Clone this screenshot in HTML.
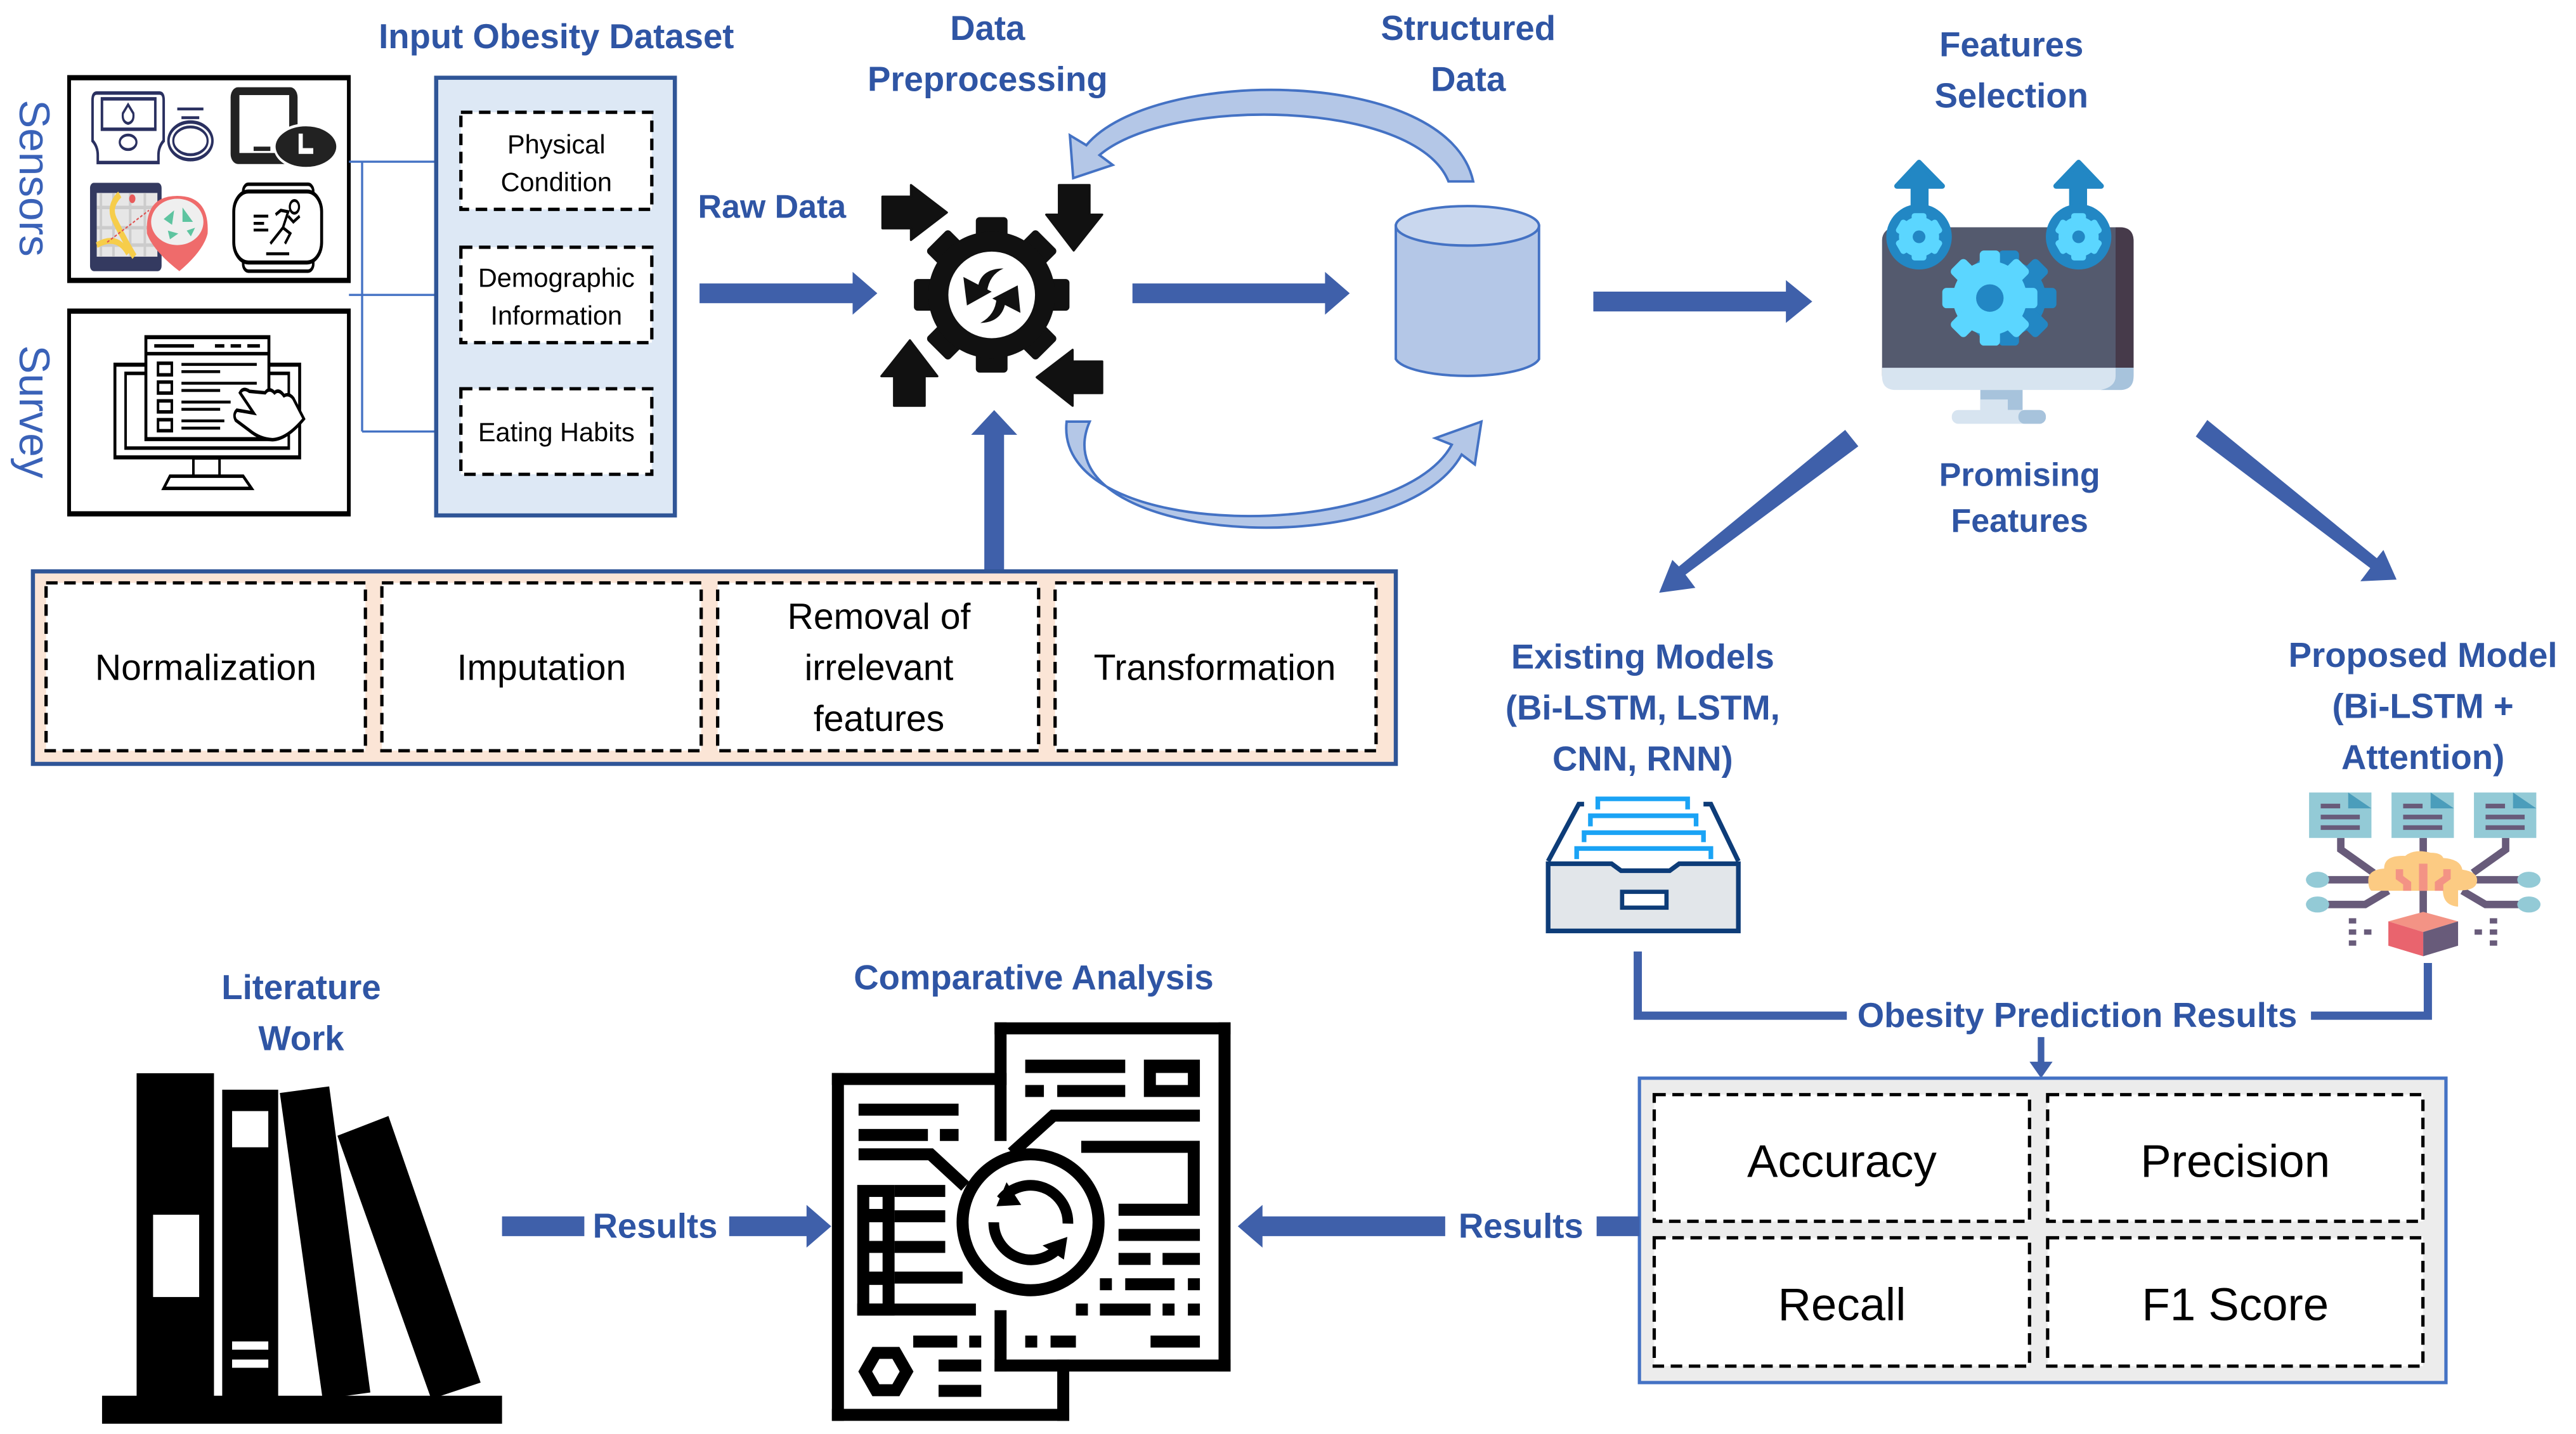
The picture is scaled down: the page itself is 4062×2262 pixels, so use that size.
<!DOCTYPE html>
<html><head><meta charset="utf-8">
<style>
html,body{margin:0;padding:0;background:#fff;}
svg{display:block;}
text{font-family:"Liberation Sans","DejaVu Sans",sans-serif;}
.t{fill:#2f55a4;font-weight:bold;font-size:21px;text-anchor:middle;}
.c{fill:#000;font-size:22px;text-anchor:middle;}
.s{fill:#000;font-size:16px;text-anchor:middle;}
.dash{fill:none;stroke:#000;stroke-width:2;stroke-dasharray:7,4;}
</style></head>
<body>
<svg width="4062" height="2262" viewBox="0 0 1565 871" xmlns="http://www.w3.org/2000/svg">
<defs>
<marker id="sm" markerWidth="6" markerHeight="6" refX="5" refY="3" orient="auto"><path d="M0,0 L6,3 L0,6 z" fill="#4472c4"/></marker>
</defs>
<rect width="1565" height="871" fill="#fff"/>

<!-- Sensors / Survey labels -->
<text x="0" y="0" transform="translate(12,108) rotate(90)" style="fill:#3a62b8;font-size:26px;text-anchor:middle">Sensors</text>
<text x="0" y="0" transform="translate(12,250) rotate(90)" style="fill:#3a62b8;font-size:26px;text-anchor:middle">Survey</text>

<!-- sensor + survey icons (zoom coords) -->
<g transform="translate(39.7,43.1) scale(0.1271,0.176)">
  <rect x="18" y="22" width="1337" height="700" fill="#fff" stroke="#000" stroke-width="18"/>
  <rect x="18" y="828" width="1337" height="700" fill="#fff" stroke="#000" stroke-width="18"/>
  <!-- glucometer -->
  <path d="M150,75 L450,75 Q470,75 470,100 L470,240 Q445,260 445,290 L445,315 L155,315 L155,290 Q155,260 130,240 L130,100 Q130,75 150,75 z" fill="#fff" stroke="#2a3060" stroke-width="12"/>
  <rect x="175" y="95" width="255" height="105" fill="none" stroke="#2a3060" stroke-width="12"/>
  <path d="M300,115 L325,145 Q330,175 300,180 Q270,175 275,145 z" fill="none" stroke="#2a3060" stroke-width="10"/>
  <ellipse cx="300" cy="245" rx="40" ry="25" fill="none" stroke="#2a3060" stroke-width="10"/>
  <ellipse cx="598" cy="240" rx="105" ry="65" fill="none" stroke="#2a3060" stroke-width="12"/>
  <ellipse cx="598" cy="240" rx="82" ry="48" fill="none" stroke="#2a3060" stroke-width="10"/>
  <path d="M535,130 L660,130 M555,160 L640,160" stroke="#2a3060" stroke-width="10"/>
  <!-- phone with clock -->
  <rect x="790" y="55" width="320" height="265" rx="35" fill="#222"/>
  <rect x="832" y="82" width="238" height="200" fill="#fff"/>
  <rect x="900" y="260" width="80" height="15" fill="#222"/>
  <ellipse cx="1150" cy="260" rx="150" ry="75" fill="#222" stroke="#fff" stroke-width="10"/>
  <path d="M1125,215 L1125,275 L1185,275" fill="none" stroke="#fff" stroke-width="20"/>
  <!-- map -->
  <rect x="118" y="385" width="342" height="305" rx="18" fill="#343a60"/>
  <rect x="150" y="420" width="290" height="220" fill="#e6e6e6"/>
  <path d="M170,420 L170,640 M230,420 L230,640 M310,420 L310,640 M380,420 L380,640 M150,470 L440,470 M150,540 L440,540 M150,600 L440,600" stroke="#ccc" stroke-width="12"/>
  <path d="M260,425 Q200,470 240,520 Q280,580 330,640" fill="none" stroke="#f6cd4a" stroke-width="25"/>
  <path d="M150,600 Q250,560 300,630" fill="none" stroke="#f6cd4a" stroke-width="20"/>
  <path d="M200,590 L400,480" stroke="#e05050" stroke-width="5" stroke-dasharray="12,8"/>
  <circle cx="320" cy="440" r="15" fill="#e85a5a"/>
  <path d="M390,560 Q380,430 535,430 Q690,430 680,560 Q660,620 545,690 Q420,620 390,560 z" fill="#ef6b6b"/>
  <ellipse cx="535" cy="520" rx="125" ry="80" fill="#efefef"/>
  <path d="M470,510 L520,480 L510,530 z M560,470 L610,520 L560,520 z M490,550 L540,560 L500,580 z M580,550 L620,540 L600,570 z" fill="#5ec4a0"/>
  <!-- watch -->
  <rect x="850" y="390" width="335" height="300" rx="25" fill="#fff" stroke="#000" stroke-width="12"/>
  <rect x="805" y="415" width="420" height="245" rx="70" fill="#fff" stroke="#000" stroke-width="14"/>
  <path d="M900,500 L970,500 M900,525 L950,525 M900,548 L970,548 M960,630 L1070,630" stroke="#000" stroke-width="10"/>
  <circle cx="1095" cy="468" r="22" fill="none" stroke="#000" stroke-width="10"/>
  <path d="M1005,495 L1030,480 L1065,485 L1040,540 L1075,560 L1050,595 M1040,540 L980,595 M1065,500 L1090,520 L1120,500" fill="none" stroke="#000" stroke-width="11"/>
  <!-- survey monitor -->
  <rect x="237" y="1013" width="883" height="320" fill="#fff" stroke="#000" stroke-width="14"/>
  <rect x="288" y="1043" width="780" height="258" fill="none" stroke="#000" stroke-width="12"/>
  <rect x="612" y="1335" width="125" height="75" fill="#fff" stroke="#000" stroke-width="12"/>
  <path d="M470,1440 L500,1398 L850,1398 L890,1440 z" fill="#fff" stroke="#000" stroke-width="12"/>
  <rect x="385" y="918" width="588" height="352" fill="#fff" stroke="#000" stroke-width="14"/>
  <line x1="385" y1="975" x2="973" y2="975" stroke="#000" stroke-width="12"/>
  <path d="M425,948 L615,948 M715,948 L760,948 M790,948 L840,948 M870,948 L930,948" stroke="#000" stroke-width="12"/>
  <g fill="#fff" stroke="#000" stroke-width="12">
    <rect x="443" y="1008" width="66" height="40"/><rect x="443" y="1073" width="66" height="38"/>
    <rect x="443" y="1138" width="66" height="38"/><rect x="443" y="1203" width="66" height="38"/>
  </g>
  <path d="M555,1012 L915,1012 M555,1037 L740,1037 M555,1077 L915,1077 M555,1102 L740,1102 M555,1142 L790,1142 M555,1167 L740,1167 M555,1207 L760,1207 M555,1232 L740,1232" stroke="#000" stroke-width="10"/>
  <path d="M990,1272 Q1060,1270 1140,1200 L1090,1130 Q1070,1110 1045,1120 Q1020,1095 1000,1110 Q975,1090 955,1110 L880,1105 Q850,1090 835,1110 L900,1180 L820,1170 Q800,1185 815,1205 L880,1240 Q930,1270 990,1272 z" fill="#fff" stroke="#000" stroke-width="12"/>
</g>

<!-- connectors -->
<line x1="212" y1="98" x2="220" y2="98" stroke="#4472c4" stroke-width="1.3"/>
<line x1="212" y1="179" x2="220" y2="179" stroke="#4472c4" stroke-width="1.3"/>
<line x1="220" y1="98" x2="220" y2="262" stroke="#4472c4" stroke-width="1.3"/>
<line x1="220" y1="98" x2="279" y2="98" stroke="#4472c4" stroke-width="1.3" marker-end="url(#sm)"/>
<line x1="220" y1="179" x2="279" y2="179" stroke="#4472c4" stroke-width="1.3" marker-end="url(#sm)"/>
<line x1="220" y1="262" x2="279" y2="262" stroke="#4472c4" stroke-width="1.3" marker-end="url(#sm)"/>

<!-- dataset -->
<text x="338" y="29" class="t">Input Obesity Dataset</text>
<rect x="265" y="47" width="145" height="266" fill="#dde8f5" stroke="#2f5597" stroke-width="2.5"/>
<rect x="280" y="68" width="116" height="59" class="dash" style="fill:#fff"/>
<text x="338" y="93" class="s">Physical</text><text x="338" y="116" class="s">Condition</text>
<rect x="280" y="150" width="116" height="58" class="dash" style="fill:#fff"/>
<text x="338" y="174" class="s">Demographic</text><text x="338" y="197" class="s">Information</text>
<rect x="280" y="236" width="116" height="52" class="dash" style="fill:#fff"/>
<text x="338" y="268" class="s">Eating Habits</text>

<text x="469" y="132" class="t" style="font-size:20px">Raw Data</text>
<path d="M425,172 L518,172 L518,165 L533,178 L518,191 L518,184 L425,184 z" fill="#3f60aa"/>

<!-- gear -->
<text x="600" y="24" class="t">Data</text>
<text x="600" y="55" class="t">Preprocessing</text>
<g transform="translate(523.9,100) scale(0.1284)">
  <g transform="translate(612,615)" fill="#111">
    <rect x="-75" y="-368" width="150" height="140" rx="18"/>
    <rect x="-75" y="-368" width="150" height="140" rx="18" transform="rotate(45)"/>
    <rect x="-75" y="-368" width="150" height="140" rx="18" transform="rotate(90)"/>
    <rect x="-75" y="-368" width="150" height="140" rx="18" transform="rotate(135)"/>
    <rect x="-75" y="-368" width="150" height="140" rx="18" transform="rotate(180)"/>
    <rect x="-75" y="-368" width="150" height="140" rx="18" transform="rotate(225)"/>
    <rect x="-75" y="-368" width="150" height="140" rx="18" transform="rotate(270)"/>
    <rect x="-75" y="-368" width="150" height="140" rx="18" transform="rotate(315)"/>
    <circle r="300"/>
    <circle r="205" fill="#fff"/>
  </g>
  <g fill="#111">
    <path d="M478,530 L495,665 L612,600 z"/>
    <path d="M545,590 Q555,490 668,490 Q600,520 590,600 z"/>
    <path d="M735,570 L748,700 L615,632 z"/>
    <path d="M680,630 Q670,745 558,748 Q630,710 635,630 z"/>
    <path d="M95,150 L230,150 L230,95 L400,225 L230,355 L230,300 L95,300 z" stroke="#111" stroke-width="10" stroke-linejoin="round"/>
    <path d="M930,95 L1075,95 L1075,235 L1135,235 L1000,405 L870,235 L930,235 z" stroke="#111" stroke-width="10" stroke-linejoin="round"/>
    <path d="M150,1140 L295,1140 L295,1000 L355,1000 L225,830 L90,1000 L150,1000 z" stroke="#111" stroke-width="10" stroke-linejoin="round"/>
    <path d="M1135,930 L1135,1080 L995,1080 L995,1140 L825,1005 L995,875 L995,930 z" stroke="#111" stroke-width="10" stroke-linejoin="round"/>
  </g>
</g>
<path d="M688,172 L805,172 L805,165 L820,178 L805,191 L805,184 L688,184 z" fill="#3f60aa"/>

<!-- curved arrows -->
<path d="M895,110 C880,40 700,40 660,88 L650,82 L652,108 L676,100 L668,94 C710,58 860,60 880,110 z" fill="#b4c7e7" stroke="#4472c4" stroke-width="1.5"/>
<path d="M648,256 C640,330 850,330 882,270 L872,266 L900,256 L896,282 L888,276 C850,345 630,330 662,256 z" fill="#b4c7e7" stroke="#4472c4" stroke-width="1.5"/>

<!-- cylinder -->
<text x="892" y="24" class="t">Structured</text>
<text x="892" y="55" class="t">Data</text>
<path d="M848,137 L848,218 A44,12 0 0 0 935,218 L935,137 z" fill="#b4c7e7" stroke="#4472c4" stroke-width="1.5"/>
<ellipse cx="891.5" cy="137" rx="43.5" ry="12" fill="#c9d7ee" stroke="#4472c4" stroke-width="1.5"/>

<path d="M968,177 L1085,177 L1085,170 L1101,183 L1085,196 L1085,189 L968,189 z" fill="#3f60aa"/>

<!-- features selection -->
<text x="1222" y="34" class="t">Features</text>
<text x="1222" y="65" class="t">Selection</text>
<g transform="translate(1140.2,92.3) scale(0.1284)">
  <rect x="25" y="355" width="1190" height="760" rx="60" fill="#545a6e"/>
  <path d="M1130,355 L1150,355 Q1215,355 1215,420 L1215,1020 L1130,1020 z" fill="#463a4a"/>
  <path d="M25,1020 L1215,1020 L1215,1060 Q1215,1125 1150,1125 L90,1125 Q25,1125 25,1060 z" fill="#d7e4f0"/>
  <path d="M1130,1020 L1215,1020 L1215,1060 Q1215,1125 1150,1125 L1060,1125 Q1130,1110 1130,1060 z" fill="#a7c3dc"/>
  <rect x="490" y="1125" width="200" height="95" fill="#a7c3dc"/>
  <rect x="490" y="1170" width="130" height="50" fill="#d7e4f0"/>
  <rect x="355" y="1220" width="445" height="65" rx="30" fill="#d7e4f0"/>
  <rect x="670" y="1220" width="130" height="65" rx="30" fill="#a7c3dc"/>
  <g transform="translate(625,690)" fill="#2287c4">
    <circle r="175"/>
    <rect x="-48" y="-225" width="96" height="450" rx="20"/>
    <rect x="-48" y="-225" width="96" height="450" rx="20" transform="rotate(45)"/>
    <rect x="-48" y="-225" width="96" height="450" rx="20" transform="rotate(90)"/>
    <rect x="-48" y="-225" width="96" height="450" rx="20" transform="rotate(135)"/>
  </g>
  <g transform="translate(535,690)" fill="#5bd6ff">
    <circle r="175"/>
    <rect x="-48" y="-225" width="96" height="450" rx="20"/>
    <rect x="-48" y="-225" width="96" height="450" rx="20" transform="rotate(45)"/>
    <rect x="-48" y="-225" width="96" height="450" rx="20" transform="rotate(90)"/>
    <rect x="-48" y="-225" width="96" height="450" rx="20" transform="rotate(135)"/>
    <circle r="65" fill="#2287c4"/>
  </g>
  <g fill="#2287c4">
    <rect x="160" y="150" width="85" height="120"/>
    <path d="M95,160 L200,48 L310,160 z" stroke="#2287c4" stroke-width="25" stroke-linejoin="round"/>
    <rect x="910" y="150" width="85" height="120"/>
    <path d="M848,160 L955,48 L1062,160 z" stroke="#2287c4" stroke-width="25" stroke-linejoin="round"/>
    <circle cx="200" cy="400" r="155"/><circle cx="955" cy="400" r="155"/>
  </g>
  <g fill="#5bd6ff">
    <circle cx="200" cy="400" r="95"/><circle cx="955" cy="400" r="95"/>
    <g transform="translate(200,400)"><rect x="-35" y="-112" width="70" height="224" rx="14"/><rect x="-35" y="-112" width="70" height="224" rx="14" transform="rotate(60)"/><rect x="-35" y="-112" width="70" height="224" rx="14" transform="rotate(120)"/></g>
    <g transform="translate(955,400)"><rect x="-35" y="-112" width="70" height="224" rx="14"/><rect x="-35" y="-112" width="70" height="224" rx="14" transform="rotate(60)"/><rect x="-35" y="-112" width="70" height="224" rx="14" transform="rotate(120)"/></g>
  </g>
  <circle cx="200" cy="400" r="30" fill="#2287c4"/><circle cx="955" cy="400" r="30" fill="#2287c4"/>
</g>
<text x="1227" y="295" class="t" style="font-size:20px">Promising</text>
<text x="1227" y="323" class="t" style="font-size:20px">Features</text>

<!-- diagonal arrows -->
<path d="M1121,261 L1129,271 L1024,349 L1030,357 L1008,360 L1016,340 L1020,344 z" fill="#3f60aa"/>
<path d="M1341,255 L1334,265 L1440,345 L1434,353 L1456,352 L1448,334 L1444,339 z" fill="#3f60aa"/>

<text x="998" y="406" class="t">Existing Models</text>
<text x="998" y="437" class="t">(Bi-LSTM, LSTM,</text>
<text x="998" y="468" class="t">CNN, RNN)</text>
<text x="1472" y="405" class="t">Proposed Model</text>
<text x="1472" y="436" class="t">(Bi-LSTM +</text>
<text x="1472" y="467" class="t">Attention)</text>

<!-- drawer -->
<g transform="translate(932.2,476.9) scale(0.1284)">
  <path d="M65,360 L210,90 L235,90 M965,360 L835,90 L800,90" fill="none" stroke="#0d3c78" stroke-width="22"/>
  <g fill="none" stroke="#1aa3f5" stroke-width="22">
    <path d="M300,115 L300,65 L725,65 L725,115"/>
    <path d="M265,195 L265,145 L765,145 L765,195"/>
    <path d="M235,270 L235,225 L800,225 L800,270"/>
    <path d="M200,350 L200,300 L835,300 L835,350"/>
  </g>
  <path d="M65,372 L365,372 L410,405 L640,405 L685,372 L965,372 L965,690 L65,690 z" fill="#e2e6ea" stroke="#0d3c78" stroke-width="22"/>
  <rect x="415" y="505" width="210" height="75" fill="#fff" stroke="#0d3c78" stroke-width="20"/>
</g>

<!-- brain icon -->
<g transform="translate(1394.5,476.9) scale(0.1284)">
  <g fill="none" stroke="#685b7a" stroke-width="35">
    <path d="M215,250 L215,305 L370,415"/><path d="M605,250 L605,320"/><path d="M995,250 L995,305 L840,415"/>
    <path d="M150,448 L360,448"/><path d="M850,448 L1060,448"/>
    <path d="M150,565 L330,565 L440,500"/><path d="M1060,565 L900,565 L790,500"/>
    <path d="M605,490 L605,640"/>
  </g>
  <g>
    <rect x="65" y="35" width="295" height="215" fill="#93cad6"/><path d="M250,35 L360,110 L250,110 z" fill="#4b9dbb"/>
    <rect x="455" y="35" width="295" height="215" fill="#93cad6"/><path d="M640,35 L750,110 L640,110 z" fill="#4b9dbb"/>
    <rect x="845" y="35" width="295" height="215" fill="#93cad6"/><path d="M1030,35 L1140,110 L1030,110 z" fill="#4b9dbb"/>
    <g fill="#685b7a">
      <rect x="120" y="88" width="92" height="22"/><rect x="120" y="140" width="185" height="22"/><rect x="120" y="190" width="185" height="22"/>
      <rect x="510" y="88" width="92" height="22"/><rect x="510" y="140" width="185" height="22"/><rect x="510" y="190" width="185" height="22"/>
      <rect x="900" y="88" width="92" height="22"/><rect x="900" y="140" width="185" height="22"/><rect x="900" y="190" width="185" height="22"/>
    </g>
  </g>
  <g fill="#93cad6">
    <ellipse cx="105" cy="448" rx="55" ry="38"/><ellipse cx="105" cy="565" rx="55" ry="38"/>
    <ellipse cx="1105" cy="448" rx="55" ry="38"/><ellipse cx="1105" cy="565" rx="55" ry="38"/>
  </g>
  <path d="M345,450 Q345,400 420,395 Q420,330 520,335 Q560,300 640,320 Q690,320 700,345 Q780,350 790,400 Q860,410 860,450 Q860,495 790,498 L770,498 L770,575 Q700,570 698,500 L360,500 Q345,490 345,450 z" fill="#fccb83"/>
  <path d="M585,372 L625,372 L625,500 L585,500 z M475,398 L510,398 L510,430 L548,458 L548,500 L510,500 L510,470 L475,445 z M735,398 L700,398 L700,430 L660,458 L660,500 L700,500 L700,470 L735,445 z" fill="#f39385"/>
  <path d="M440,645 L605,600 L770,645 L605,695 z" fill="#f39385"/>
  <path d="M440,645 L605,695 L605,810 L440,760 z" fill="#e9646e"/>
  <path d="M605,695 L770,645 L770,760 L605,810 z" fill="#685b7a"/>
  <g fill="#685b7a">
    <rect x="253" y="630" width="35" height="25"/><rect x="253" y="683" width="35" height="25"/><rect x="325" y="683" width="35" height="25"/><rect x="253" y="735" width="35" height="25"/>
    <rect x="920" y="630" width="35" height="25"/><rect x="848" y="683" width="35" height="25"/><rect x="920" y="683" width="35" height="25"/><rect x="920" y="735" width="35" height="25"/>
  </g>
</g>

<!-- bracket -->
<path d="M995,578 L995,617 L1475,617 L1475,585" fill="none" stroke="#3f60aa" stroke-width="5"/>
<rect x="1122" y="603" width="282" height="26" fill="#fff"/>
<text x="1262" y="624" class="t">Obesity Prediction Results</text>
<path d="M1238,630 L1238,645 L1233,645 L1240,655 L1247,645 L1242,645 L1242,630 z" fill="#3f60aa"/>

<!-- metrics -->
<rect x="996" y="655" width="490" height="185" fill="#ececec" stroke="#4472c4" stroke-width="2"/>
<rect x="1005" y="665" width="228" height="77" class="dash" style="fill:#fff"/>
<rect x="1244" y="665" width="228" height="77" class="dash" style="fill:#fff"/>
<rect x="1005" y="752" width="228" height="78" class="dash" style="fill:#fff"/>
<rect x="1244" y="752" width="228" height="78" class="dash" style="fill:#fff"/>
<text x="1119" y="715" class="c" style="font-size:28px">Accuracy</text>
<text x="1358" y="715" class="c" style="font-size:28px">Precision</text>
<text x="1119" y="802" class="c" style="font-size:28px">Recall</text>
<text x="1358" y="802" class="c" style="font-size:28px">F1 Score</text>

<!-- preprocessing steps -->
<path d="M598,347 L598,264 L590,264 L604,249 L618,264 L610,264 L610,347 z" fill="#3f60aa"/>
<rect x="20" y="347" width="828" height="117" fill="#fbe5d6" stroke="#2f5597" stroke-width="2.5"/>
<rect x="28" y="354" width="194" height="102" class="dash" style="fill:#fff"/>
<rect x="232" y="354" width="194" height="102" class="dash" style="fill:#fff"/>
<rect x="436" y="354" width="195" height="102" class="dash" style="fill:#fff"/>
<rect x="641" y="354" width="195" height="102" class="dash" style="fill:#fff"/>
<text x="125" y="413" class="c">Normalization</text>
<text x="329" y="413" class="c">Imputation</text>
<text x="534" y="382" class="c">Removal of</text>
<text x="534" y="413" class="c">irrelevant</text>
<text x="534" y="444" class="c">features</text>
<text x="738" y="413" class="c">Transformation</text>

<!-- literature -->
<text x="183" y="607" class="t">Literature</text>
<text x="183" y="638" class="t">Work</text>
<g fill="#000">
<rect x="83" y="652" width="47" height="198"/>
<rect x="135" y="662" width="34" height="188"/>
<path d="M170,664 L200,660 L225,846 L196,850 z"/>
<path d="M205,690 L236,678 L292,840 L262,850 z"/>
<rect x="62" y="848" width="243" height="17"/>
</g>
<rect x="93" y="738" width="28" height="50" fill="#fff"/>
<rect x="141" y="675" width="22" height="22" fill="#fff"/>
<rect x="141" y="815" width="22" height="5" fill="#fff"/>
<rect x="141" y="826" width="22" height="5" fill="#fff"/>

<rect x="305" y="739" width="50" height="12" fill="#3f60aa"/>
<text x="398" y="752" class="t">Results</text>
<path d="M443,739 L490,739 L490,732 L505,745 L490,758 L490,751 L443,751 z" fill="#3f60aa"/>

<!-- comparative analysis -->
<text x="628" y="601" class="t">Comparative Analysis</text>
<g transform="translate(504.6,615.4) scale(0.162)" fill="#000">
  <rect x="5" y="225" width="45" height="1305"/>
  <rect x="5" y="225" width="655" height="45"/>
  <rect x="5" y="1485" width="890" height="45"/>
  <rect x="850" y="1300" width="45" height="230"/>
  <rect x="615" y="35" width="885" height="45"/>
  <rect x="1455" y="35" width="45" height="1310"/>
  <rect x="615" y="1300" width="885" height="45"/>
  <rect x="615" y="35" width="45" height="445"/>
  <rect x="615" y="1115" width="45" height="230"/>
  <rect x="105" y="340" width="375" height="45"/>
  <rect x="105" y="435" width="260" height="45"/><rect x="410" y="435" width="70" height="45"/>
  <path d="M105,530 L375,530 L505,650" fill="none" stroke="#000" stroke-width="45"/>
  <rect x="100" y="645" width="140" height="490"/>
  <rect x="145" y="690" width="50" height="45" fill="#fff"/><rect x="145" y="785" width="50" height="70" fill="#fff"/>
  <rect x="145" y="900" width="50" height="70" fill="#fff"/><rect x="145" y="1020" width="50" height="70" fill="#fff"/>
  <rect x="240" y="645" width="190" height="45"/><rect x="240" y="740" width="190" height="45"/>
  <rect x="240" y="855" width="190" height="45"/><rect x="240" y="970" width="255" height="45"/>
  <rect x="100" y="1090" width="445" height="45"/>
  <rect x="310" y="1210" width="165" height="45"/><rect x="520" y="1210" width="45" height="45"/>
  <rect x="405" y="1300" width="160" height="45"/><rect x="405" y="1395" width="160" height="45"/>
  <path d="M130,1345 L170,1275 L245,1275 L285,1345 L245,1415 L170,1415 z" fill="none" stroke="#000" stroke-width="45"/>
  <rect x="730" y="175" width="375" height="50"/>
  <rect x="730" y="270" width="70" height="45"/><rect x="850" y="270" width="255" height="45"/>
  <path d="M1175,175 L1385,175 L1385,315 L1175,315 z M1220,225 L1220,270 L1340,270 L1340,225 z" fill-rule="evenodd"/>
  <path d="M680,525 L835,385 L1385,385" fill="none" stroke="#000" stroke-width="45"/>
  <path d="M940,502 L1362,502 L1362,738 L1080,738" fill="none" stroke="#000" stroke-width="45"/>
  <rect x="1080" y="810" width="305" height="45"/>
  <rect x="1080" y="900" width="120" height="45"/><rect x="1245" y="900" width="140" height="45"/>
  <rect x="1010" y="995" width="45" height="45"/><rect x="1105" y="995" width="185" height="45"/><rect x="1340" y="995" width="45" height="45"/>
  <rect x="920" y="1090" width="45" height="45"/><rect x="1010" y="1090" width="190" height="45"/>
  <rect x="1245" y="1090" width="45" height="45"/><rect x="1340" y="1090" width="45" height="45"/>
  <rect x="730" y="1210" width="45" height="45"/><rect x="825" y="1210" width="95" height="45"/><rect x="1200" y="1210" width="185" height="45"/>
  <circle cx="750" cy="785" r="255" fill="#fff" stroke="#000" stroke-width="45"/>
  <path d="M890,790 A140,140 0 0 0 640,700" fill="none" stroke="#000" stroke-width="40"/>
  <path d="M660,635 L622,725 L715,720 z"/>
  <path d="M612,785 A140,140 0 0 0 860,875" fill="none" stroke="#000" stroke-width="40"/>
  <path d="M888,840 L875,925 L795,872 z"/>
</g>

<!-- right results arrow -->
<path d="M878,739 L767,739 L767,732 L752,745 L767,758 L767,751 L878,751 z" fill="#3f60aa"/>
<text x="924" y="752" class="t">Results</text>
<rect x="970" y="739" width="26" height="12" fill="#3f60aa"/>
</svg>
</body></html>
